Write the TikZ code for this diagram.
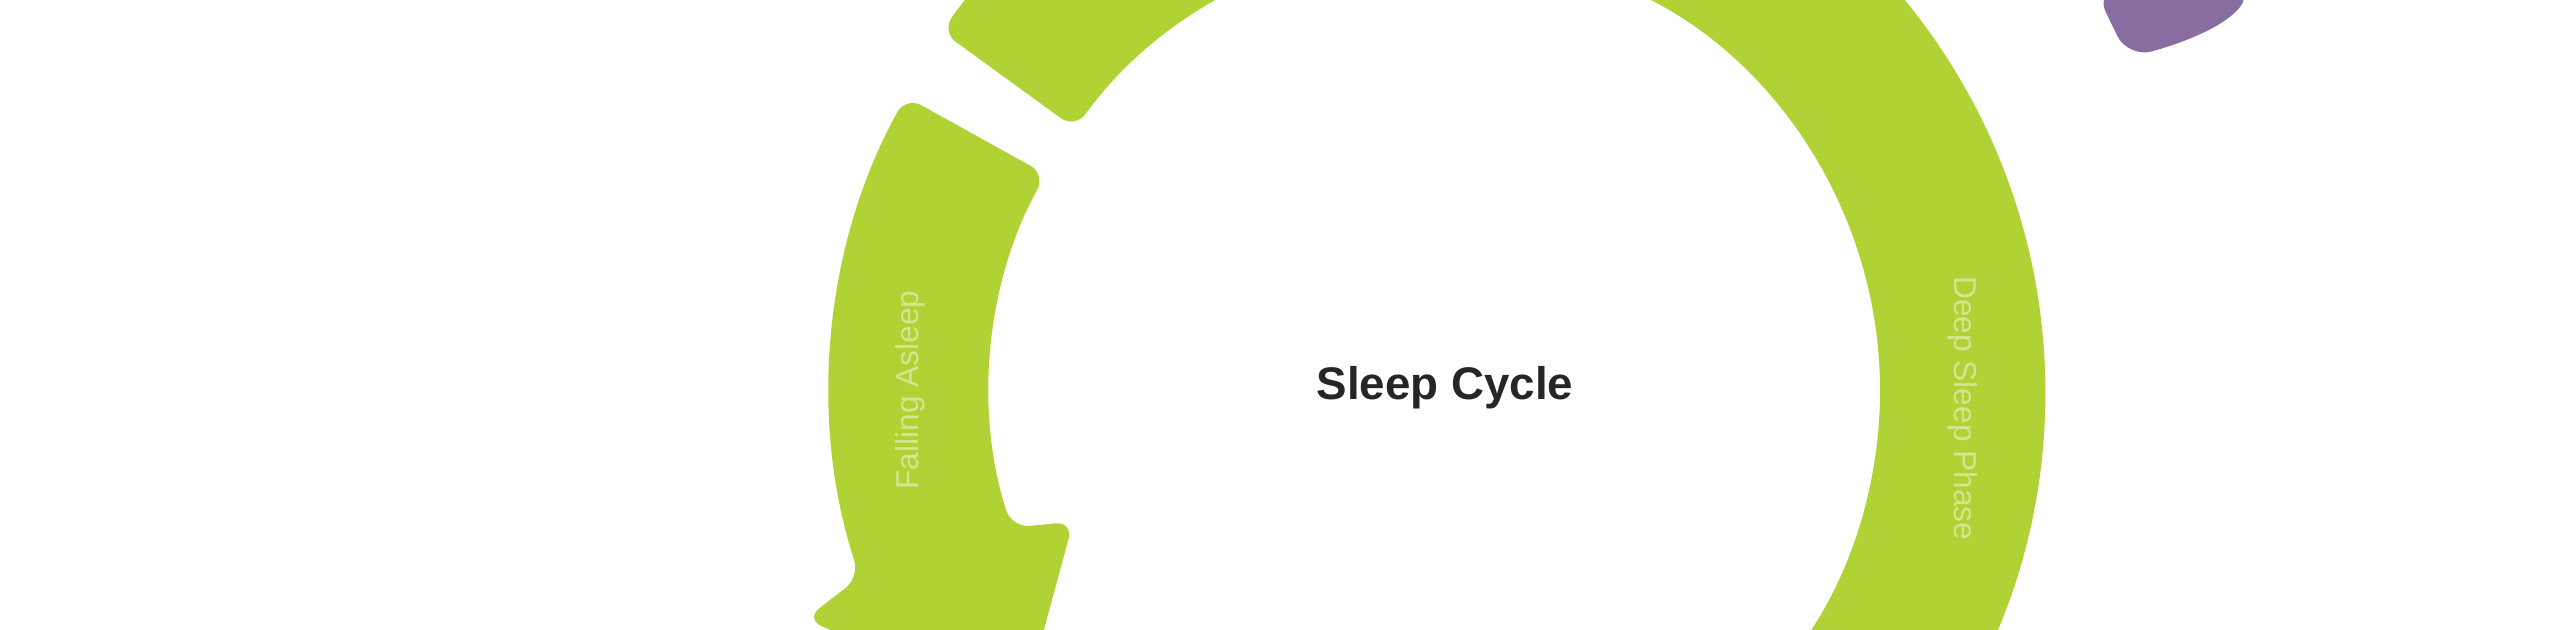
\documentclass[tikz,border=0pt]{standalone}
\usepackage{fontspec}
\setmainfont{Liberation Sans}
\usepackage{tikz}
\usetikzlibrary{positioning}
\definecolor{leafgreen}{RGB}{177,210,53}
\definecolor{plum}{RGB}{136,110,160}

\begin{document}
\begin{tikzpicture}[
segment/.style={fill=leafgreen, draw=none, rounded corners=5pt},
seg_label/.style={text=white!45!leafgreen, font=\fontsize{9}{10}\selectfont},
title/.style={text=black!85, font=\fontsize{13}{15}\selectfont\bfseries}
]
\useasboundingbox (0,0) rectangle (25.6,6.3);
\clip (0,0) rectangle (25.6,6.3);

\begin{scope}[shift={(14.35,2.40)}]
% right arc
\fill[segment] (-40:6.1) arc[start angle=-40, end angle=65, radius=6.1]
  -- (65:4.45) arc[start angle=65, end angle=-40, radius=4.45] -- cycle;
% top arc
\fill[segment] (72:6.1) arc[start angle=72, end angle=144, radius=6.1]
  -- (144:4.45) arc[start angle=144, end angle=72, radius=4.45] -- cycle;
% left arc with head
\fill[segment] (151:6.05) arc[start angle=151, end angle=198, radius=6.05]
  -- (200:6.7) -- (218:5.25) -- (200:3.85) -- (198:4.45)
  arc[start angle=198, end angle=151, radius=4.45] -- cycle;

\node[title](cycle_name) at (0.1,0.02){Sleep Cycle};
\node[seg_label, rotate=90](asleep_label) at (180:5.25){Falling Asleep};
\node[seg_label, rotate=-90](deep_label) at (-2:5.275){Deep Sleep Phase};
\end{scope}

% corner of the next cycle
\fill[plum, rounded corners=7pt] (20.95,6.4) -- (21.28,5.72)
  .. controls (21.75,5.85) and (22.2,6.0) .. (22.55,6.4) -- cycle;
\end{tikzpicture}
\end{document}
